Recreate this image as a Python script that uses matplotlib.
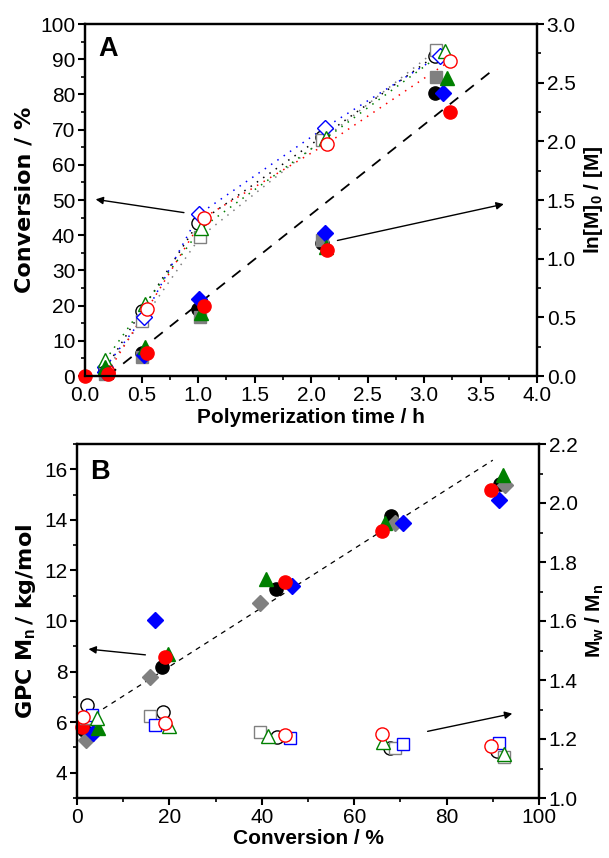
import matplotlib
matplotlib.use("Agg")
import matplotlib.pyplot as plt
from matplotlib.ticker import MultipleLocator, FormatStrFormatter

plt.rcParams['font.family'] = ['Liberation Sans', 'DejaVu Sans']
plt.rcParams['mathtext.fontset'] = 'custom'
plt.rcParams['mathtext.rm'] = 'Liberation Sans'
plt.rcParams['mathtext.bf'] = 'Liberation Sans:bold'
plt.rcParams['mathtext.it'] = 'Liberation Sans:italic'

# ---------------- Panel A data ----------------
names = ["black", "gray", "blue", "green", "red"]
colors = {"black": "#000000", "gray": "#808080", "blue": "#0000FF",
          "green": "#008000", "red": "#FF0000"}

a_time = {
    "black": [0.18, 0.50, 1.00, 2.10, 3.10],
    "gray":  [0.18, 0.50, 1.02, 2.10, 3.11],
    "blue":  [0.18, 0.52, 1.01, 2.12, 3.14],
    "green": [0.18, 0.53, 1.03, 2.13, 3.19],
    "red":   [0.20, 0.55, 1.05, 2.14, 3.23],
}
a_conv = {
    "black": [2.0, 18.5, 43.4, 68.0, 91.0],
    "gray":  [1.5, 15.5, 39.5, 67.0, 92.6],
    "blue":  [2.5, 16.8, 46.0, 70.5, 91.0],
    "green": [4.5, 20.4, 42.0, 67.5, 92.3],
    "red":   [1.0, 19.0, 45.0, 66.0, 89.5],
}
a_time_ln = {
    "black": [0.18, 0.50, 1.00, 2.10, 3.10],
    "gray":  [0.18, 0.50, 1.02, 2.10, 3.11],
    "blue":  [0.18, 0.52, 1.01, 2.12, 3.17],
    "green": [0.18, 0.53, 1.03, 2.13, 3.20],
    "red":   [0.00, 0.20, 0.55, 1.05, 2.14, 3.23],
}
a_ln = {
    "black": [0.03, 0.20, 0.57, 1.13, 2.41],
    "gray":  [0.02, 0.16, 0.50, 1.16, 2.55],
    "blue":  [0.03, 0.18, 0.66, 1.22, 2.41],
    "green": [0.08, 0.25, 0.54, 1.10, 2.54],
    "red":   [0.00, 0.02, 0.20, 0.60, 1.07, 2.25],
}
a_marker = {"black": "o", "gray": "s", "blue": "D", "green": "^", "red": "o"}
a_fit_t = [0.2, 3.6]
a_fit_ln = [0.0, 2.6]

# ---------------- Panel B data ----------------
b_conv = {
    "black": [1.5, 18.5, 43.0, 68.0, 91.5],
    "gray":  [2.0, 15.8, 39.6, 68.8, 92.6],
    "blue":  [3.5, 16.9, 46.5, 70.6, 91.3],
    "green": [4.6, 19.8, 41.0, 66.7, 92.2],
    "red":   [1.0, 19.0, 45.0, 66.0, 89.6],
}
b_mn = {
    "black": [5.7, 8.20, 11.27, 14.15, 15.40],
    "gray":  [5.3, 7.78, 10.70, 13.87, 15.38],
    "blue":  [5.57, 10.04, 11.40, 13.87, 14.80],
    "green": [5.77, 8.70, 11.66, 13.87, 15.77],
    "red":   [5.80, 8.58, 11.55, 13.56, 15.18],
}
b_dconv = {
    "black": [2.1, 18.7, 43.2, 67.7, 91.0],
    "gray":  [2.0, 15.8, 39.6, 68.8, 92.4],
    "blue":  [3.2, 16.9, 46.2, 70.5, 91.4],
    "green": [4.4, 20.0, 41.4, 66.3, 92.4],
    "red":   [1.3, 19.0, 45.0, 66.0, 89.6],
}
b_disp = {
    "black": [1.315, 1.290, 1.207, 1.170, 1.160],
    "gray":  [1.270, 1.278, 1.225, 1.170, 1.140],
    "blue":  [1.280, 1.247, 1.203, 1.183, 1.186],
    "green": [1.270, 1.245, 1.210, 1.190, 1.150],
    "red":   [1.275, 1.255, 1.213, 1.217, 1.176],
}
b_fill_marker = {"black": "o", "gray": "D", "blue": "D", "green": "^", "red": "o"}
b_open_marker = {"black": "o", "gray": "s", "blue": "s", "green": "^", "red": "o"}
b_fit_conv = [2.0, 90.0]
b_fit_mn = [6.10, 16.36]

W, H = 609, 858
fig = plt.figure(figsize=(W / 100, H / 100), dpi=100)

TICK_FS = 15
XLAB_FS = 15
YLAB_FONT = dict(family='DejaVu Sans', weight='bold', size=16)


def style_axes(ax):
    for s in ax.spines.values():
        s.set_linewidth(1.6)
    ax.tick_params(which='major', direction='out', length=5, width=1.5, labelsize=TICK_FS, pad=2)
    ax.tick_params(which='minor', direction='out', length=3, width=1.2)


def msize(mk):
    return 9.5 if mk not in ('D', 's') else 8.3


arrow = dict(arrowstyle='-|>', color='black', lw=1.0, mutation_scale=11)

# ---------------- Panel A ----------------
axA = fig.add_axes([85 / W, 1 - 376 / H, 452 / W, 352 / H])
axA2 = axA.twinx()

for n in names:
    c = colors[n]
    axA.plot(a_time[n], a_conv[n], linestyle=(0, (1, 4)), color=c, lw=1.1, zorder=2)
for n in names:
    c = colors[n]
    mk = a_marker[n]
    axA.plot(a_time[n], a_conv[n], linestyle='none', marker=mk, ms=msize(mk),
             mfc='white', mec=c, mew=1.0, clip_on=False, zorder=3)
axA2.plot(a_fit_t, a_fit_ln, color='black', lw=1.3, dashes=(6, 5))
for n in names:
    c = colors[n]
    mk = a_marker[n]
    axA2.plot(a_time_ln[n], a_ln[n], linestyle='none', marker=mk, ms=msize(mk),
              mfc=c, mec=c, clip_on=False)

axA.set_xlim(0, 4)
axA.set_ylim(0, 100)
axA2.set_ylim(0, 3.0)
axA.xaxis.set_major_locator(MultipleLocator(0.5))
axA.xaxis.set_minor_locator(MultipleLocator(0.25))
axA.yaxis.set_major_locator(MultipleLocator(10))
axA.yaxis.set_minor_locator(MultipleLocator(5))
axA2.yaxis.set_major_locator(MultipleLocator(0.5))
axA2.yaxis.set_minor_locator(MultipleLocator(0.25))
axA.xaxis.set_major_formatter(FormatStrFormatter('%.1f'))
axA2.yaxis.set_major_formatter(FormatStrFormatter('%.1f'))
style_axes(axA)
style_axes(axA2)
axA.set_xlabel("Polymerization time / h", fontsize=XLAB_FS, fontweight='bold', labelpad=2)
axA.set_ylabel("Conversion / %", fontdict=YLAB_FONT, labelpad=4)
axA2.set_ylabel(r"$\mathbf{ln[M]_0\ /\ [M]}$", fontsize=15, rotation=90, labelpad=4)
axA.text(0.051, 0.929, "A", transform=axA.transAxes, fontsize=19.5, fontweight='bold',
         va='center', ha='center')
axA.annotate("", xy=(0.07, 50.3), xytext=(0.9, 46.3), arrowprops=arrow)
axA2.annotate("", xy=(3.73, 1.47), xytext=(2.21, 1.15), arrowprops=arrow)

# ---------------- Panel B ----------------
axB = fig.add_axes([77 / W, 1 - 798 / H, 462 / W, 354 / H])
axB2 = axB.twinx()

axB.plot(b_fit_conv, b_fit_mn, color='black', lw=0.9, dashes=(4, 4), zorder=2)
for n in names:
    c = colors[n]
    mk = b_fill_marker[n]
    axB.plot(b_conv[n], b_mn[n], linestyle='none', marker=mk, ms=msize(mk),
             mfc=c, mec=c, clip_on=False, zorder=3)
for n in names:
    c = colors[n]
    mk = b_open_marker[n]
    axB2.plot(b_dconv[n], b_disp[n], linestyle='none', marker=mk, ms=msize(mk),
              mfc='white', mec=c, mew=1.0, clip_on=False)

axB.set_xlim(0, 100)
axB.set_ylim(3, 17)
axB2.set_ylim(1.0, 2.2)
axB.xaxis.set_major_locator(MultipleLocator(20))
axB.xaxis.set_minor_locator(MultipleLocator(10))
axB.yaxis.set_major_locator(MultipleLocator(2))
axB.yaxis.set_minor_locator(MultipleLocator(1))
axB2.yaxis.set_major_locator(MultipleLocator(0.2))
axB2.yaxis.set_minor_locator(MultipleLocator(0.1))
axB2.yaxis.set_major_formatter(FormatStrFormatter('%.1f'))
style_axes(axB)
style_axes(axB2)
axB.set_xlabel("Conversion / %", fontsize=XLAB_FS, fontweight='bold', labelpad=2)
axB.set_ylabel(r"GPC M$_{\mathbf{n}}\,$/ kg/mol", fontdict=YLAB_FONT, labelpad=4)
axB2.set_ylabel(r"$\mathbf{M_w\ /\ M_n}$", fontsize=15, rotation=90, labelpad=4)
axB.text(0.05, 0.921, "B", transform=axB.transAxes, fontsize=19.5, fontweight='bold',
         va='center', ha='center')
axB.annotate("", xy=(1.9, 8.9), xytext=(15.4, 8.65), arrowprops=arrow)
axB2.annotate("", xy=(94.8, 1.288), xytext=(75.3, 1.224), arrowprops=arrow)

fig.savefig("out.png", dpi=100)
